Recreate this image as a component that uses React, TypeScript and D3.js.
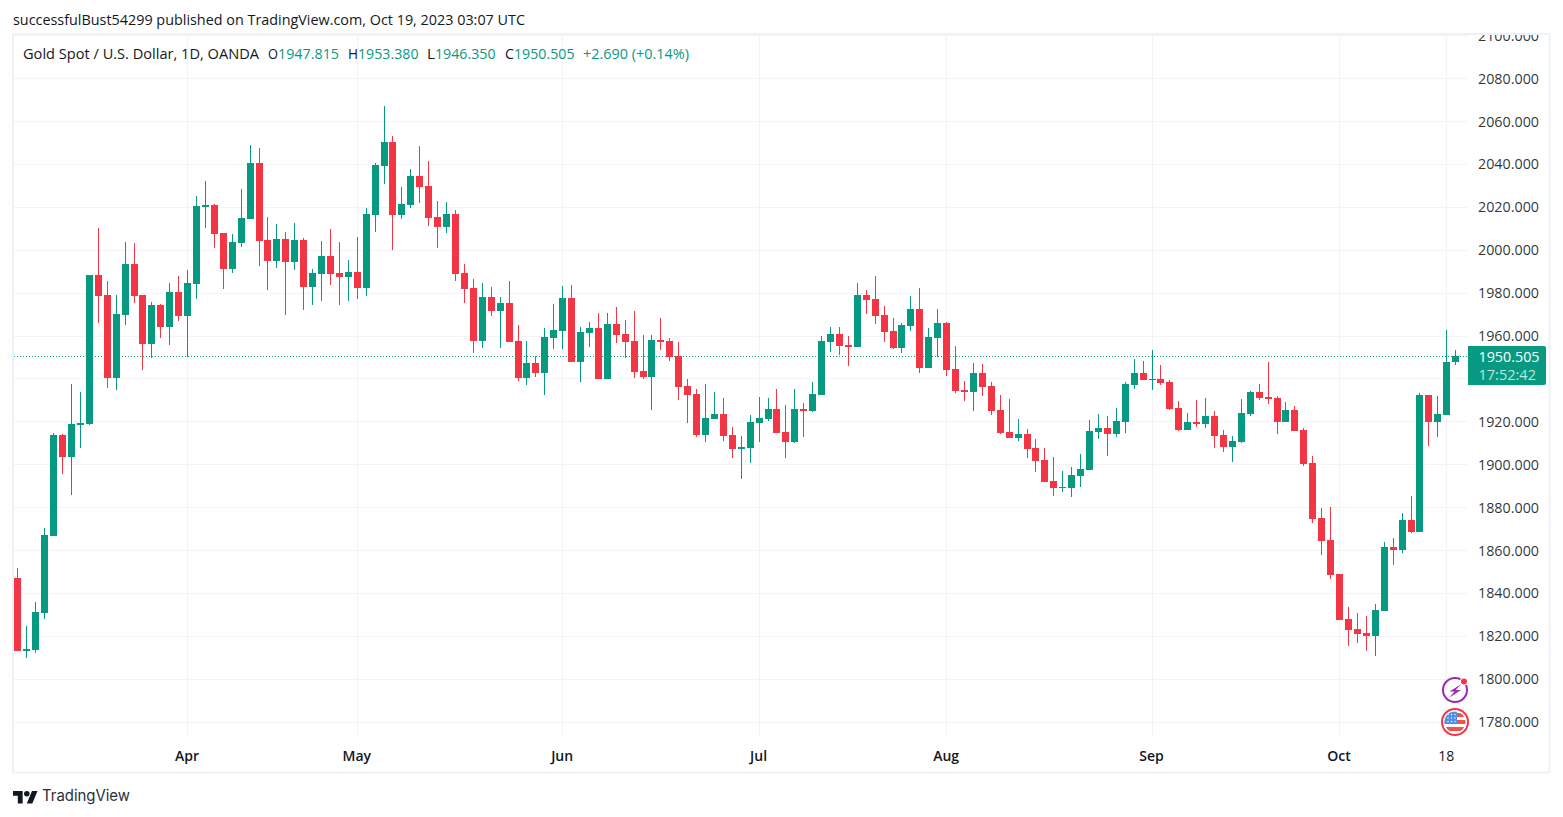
import * as d3 from "d3";

const opens = [
  1847.2, 1813.35, 1813.82, 1831.06, 1866.95, 1913.87, 1903.77, 1918.69, 1919, 1988.45,
  1979.13, 1940.6, 1969.96, 1993.58, 1979.13, 1956.44, 1974.47, 1964.37, 1980.53, 1969.49,
  1984.41, 2020.15, 2021.08, 2008.03, 1991.4, 2003.52, 2014.71, 2040.65, 2004.76, 1994.98,
  2005.23, 1994.51, 2004.76, 1982.86, 1988.92, 1997.31, 1989.38, 1987.52, 1989.85, 1982.39,
  2016.42, 2039.26, 2050.44, 2016.42, 2021.08, 2034.59, 2029.93, 2015.48, 2010.82, 2016.88,
  1989.38, 1982.39, 1957.68, 1978.19, 1971.67, 1975.4, 1957.68, 1940.44, 1947.43, 1942.77,
  1959.08, 1962.35, 1977.73, 1947.9, 1961.41, 1963.75, 1939.97, 1965.61, 1960.95, 1957.69,
  1943.7, 1940.91, 1958.15, 1957.69, 1950.69, 1936.71, 1932.98, 1913.87, 1921.33, 1923.66,
  1913.87, 1907.35, 1907.81, 1919.47, 1921.33, 1925.99, 1915.27, 1910.61, 1925.99, 1925.06,
  1932.52, 1957.22, 1960.95, 1955.82, 1954.89, 1979.13, 1977.26, 1969.8, 1962.35, 1954.42,
  1964.68, 1972.6, 1945.1, 1959.08, 1966.08, 1944.64, 1934.85, 1933.91, 1942.77, 1936.71,
  1925.52, 1915.27, 1912.47, 1914.34, 1907.81, 1902.22, 1892.43, 1889.17, 1889.17, 1894.76,
  1897.56, 1915.27, 1917.13, 1914.34, 1919.93, 1937.18, 1942.77, 1939.66, 1939.97, 1938.57,
  1926.45, 1916.2, 1919.93, 1918.99, 1922.72, 1913.87, 1908.27, 1910.6, 1923.66, 1933.91,
  1931.58, 1931.11, 1919.93, 1925.52, 1916.2, 1900.82, 1875.18, 1864.93, 1849.08, 1828.1,
  1823.44, 1821.58, 1820.18, 1831.83, 1861.66, 1860.26, 1874.25, 1868.65, 1932.51, 1919.93,
  1923.19, 1947.815,
];
const highs = [
  1851.9, 1824.85, 1836.03, 1870.53, 1914.81, 1914.34, 1937.65, 1933.92, 1988.45, 2010.36,
  1985.65, 1979.13, 2003.83, 2003.37, 1979.13, 1975.86, 1974.93, 1984.72, 1987.98, 1990.78,
  2025.27, 2032.26, 2021.54, 2008.03, 2007.56, 2028.54, 2049.04, 2047.65, 2015.48, 2012.22,
  2008.49, 2012.69, 2005.7, 1991.25, 2004.3, 2009.89, 2003.83, 1995.44, 2006.16, 2019.68,
  2040.65, 2067.22, 2053.24, 2029.47, 2037.86, 2048.58, 2041.59, 2022.94, 2022.48, 2018.75,
  1993.58, 1986.58, 1984.72, 1982.86, 1978.19, 1985.65, 1965.14, 1957.68, 1950.69, 1963.75,
  1974.93, 1983.32, 1983.79, 1964.21, 1966.54, 1970.74, 1970.74, 1973.53, 1967.47, 1971.67,
  1960.48, 1960.48, 1968.41, 1959.08, 1957.22, 1939.97, 1935.31, 1937.64, 1933.91, 1931.12,
  1917.6, 1913.41, 1923.19, 1931.58, 1931.12, 1935.31, 1927.86, 1935.31, 1928.79, 1938.58,
  1960.02, 1964.21, 1964.21, 1960.02, 1984.72, 1981.46, 1987.98, 1974, 1968.41, 1966.08,
  1978.66, 1982.39, 1963.75, 1972.6, 1966.54, 1955.36, 1939.04, 1947.43, 1946.97, 1938.58,
  1932.52, 1930.65, 1921.33, 1916.67, 1912.01, 1907.81, 1903.62, 1897.09, 1898.96, 1905.02,
  1920.86, 1923.66, 1922.73, 1926.46, 1938.58, 1949.3, 1948.36, 1953.49, 1946.49, 1939.5,
  1929.72, 1924.12, 1930.18, 1931.11, 1925.05, 1916.2, 1913.4, 1930.65, 1934.38, 1937.64,
  1947.89, 1932.05, 1929.25, 1927.38, 1917.13, 1904.08, 1879.84, 1880.31, 1849.08, 1833.7,
  1830.9, 1829.5, 1835.09, 1863.99, 1865.86, 1877.51, 1885.43, 1933.44, 1932.51, 1932.05,
  1962.81, 1953.38,
];
const lows = [
  1813.35, 1810.09, 1812.42, 1828.27, 1866.95, 1895.85, 1886.06, 1907.97, 1918.5, 1966.23,
  1935.93, 1934.85, 1965.3, 1975.55, 1944.32, 1949.92, 1959.24, 1955.98, 1967.16, 1950.38,
  1977.42, 2010.51, 2001.19, 1982.08, 1989.54, 2001.66, 2014.71, 1992.8, 1981.46, 1991.87,
  1969.81, 1990.94, 1972.14, 1974.47, 1976.33, 1983.79, 1974.47, 1976.33, 1977.26, 1978.66,
  2008.49, 2030.87, 2000.1, 2014.55, 2019.68, 2022.01, 2011.29, 2001.03, 2008.03, 1985.65,
  1975.4, 1952.09, 1954.42, 1969.34, 1954.42, 1957.22, 1939.04, 1937.18, 1940.91, 1932.52,
  1953.96, 1953.96, 1947.9, 1938.58, 1954.89, 1939.97, 1939.97, 1956.75, 1949.76, 1940.44,
  1939.97, 1925.52, 1953.49, 1948.36, 1930.19, 1919.47, 1912.94, 1910.61, 1921.33, 1911.08,
  1903.15, 1893.36, 1900.82, 1910.61, 1920.4, 1914.8, 1903.15, 1910.14, 1912.94, 1924.59,
  1932.52, 1952.56, 1951.16, 1946.03, 1954.89, 1970.27, 1965.61, 1957.22, 1953.96, 1952.09,
  1962.35, 1942.77, 1945.1, 1950.23, 1941.37, 1933.45, 1929.72, 1925.06, 1932.05, 1923.19,
  1914.34, 1912.47, 1911.08, 1903.15, 1896.63, 1891.96, 1885.44, 1887.3, 1884.97, 1889.63,
  1897.56, 1912.01, 1904.08, 1912.94, 1914.8, 1935.31, 1939.51, 1934.85, 1937.17, 1925.52,
  1915.73, 1916.2, 1917.6, 1917.13, 1907.81, 1905.94, 1901.28, 1910.14, 1922.72, 1930.18,
  1928.32, 1914.33, 1919.93, 1915.73, 1899.42, 1872.85, 1857.93, 1846.75, 1827.64, 1815.52,
  1816.92, 1813.19, 1810.86, 1831.83, 1853.27, 1858.87, 1868.19, 1868.65, 1908.74, 1912.94,
  1923.19, 1946.35,
];
const closes = [
  1813.35, 1814.13, 1831.37, 1867.26, 1913.87, 1903.77, 1919, 1919.47, 1988.45, 1978.66,
  1940.6, 1970.27, 1993.58, 1978.66, 1956.44, 1974.47, 1964.37, 1980.53, 1969.49, 1984.72,
  2020.61, 2021.08, 2007.72, 1991.4, 2003.83, 2015.02, 2040.65, 2004.45, 1994.98, 2005.23,
  1994.51, 2004.76, 1982.86, 1989.38, 1997.31, 1988.92, 1987.52, 1989.85, 1982.39, 2016.88,
  2039.72, 2050.44, 2016.42, 2021.54, 2034.59, 2029.47, 2015.02, 2010.82, 2016.88, 1988.92,
  1981.92, 1957.68, 1978.19, 1971.67, 1975.4, 1957.22, 1940.44, 1947.43, 1942.77, 1959.55,
  1962.81, 1977.73, 1947.9, 1961.88, 1963.75, 1939.97, 1965.61, 1960.48, 1957.22, 1943.24,
  1940.91, 1958.15, 1957.22, 1950.23, 1936.25, 1932.52, 1913.87, 1921.8, 1923.66, 1913.41,
  1907.35, 1908.28, 1919.93, 1921.8, 1925.99, 1914.8, 1910.61, 1925.99, 1925.06, 1932.98,
  1957.69, 1960.95, 1955.36, 1954.89, 1979.13, 1976.8, 1969.34, 1961.88, 1954.42, 1965.14,
  1972.6, 1945.1, 1959.55, 1966.08, 1944.17, 1934.38, 1933.91, 1942.77, 1936.25, 1925.06,
  1914.8, 1912.47, 1914.34, 1907.35, 1901.75, 1891.96, 1889.17, 1889.63, 1895.23, 1898.02,
  1915.74, 1917.13, 1914.34, 1920.4, 1937.64, 1942.77, 1939.51, 1939.97, 1938.1, 1925.99,
  1916.2, 1919.93, 1918.99, 1922.72, 1913.4, 1908.27, 1911.07, 1924.12, 1933.91, 1931.11,
  1930.65, 1919.93, 1925.52, 1915.73, 1900.35, 1874.71, 1864.46, 1848.61, 1827.64, 1822.98,
  1821.11, 1820.18, 1832.3, 1861.66, 1860.26, 1874.25, 1868.65, 1932.51, 1919.93, 1923.66,
  1947.89, 1950.505,
];

const priceTicks = [2100, 2080, 2060, 2040, 2020, 2000, 1980, 1960, 1940, 1920, 1900, 1880, 1860, 1840, 1820, 1800, 1780];
// 1940 sits under the last price tag, so it has a grid line but no label
const priceLabels = priceTicks.filter((p) => p !== 1940);
const timeTicks = [
  { label: "Apr", index: 19 },
  { label: "May", index: 38 },
  { label: "Jun", index: 61 },
  { label: "Jul", index: 83 },
  { label: "Aug", index: 104 },
  { label: "Sep", index: 127 },
  { label: "Oct", index: 148 },
  { label: "18", index: 160 },
];
const lastPrice = 1950.505;
const countdown = "17:52:42";

const UP = "#089981";
const DOWN = "#F23645";
const GRID = "#f3f4f7";
const BORDER = "#eff1f8";
const TEXT = "#131722";
const FONT = "'Open Sans', sans-serif";

const x = d3.scaleLinear().domain([0, 161]).range([17.92, 1455.65]);
const y = d3.scaleLinear().domain([1800, 2060]).range([679.3, 121.5]);
const snap = (v: number) => Math.floor(v) + 0.5;

const legend = [
  { t: "Gold Spot / U.S. Dollar, 1D, OANDA", x: 23, w: 236, c: TEXT },
  { t: "O", x: 268, w: 10, c: TEXT },
  { t: "1947.815", x: 278, w: 61, c: UP },
  { t: "H", x: 348, w: 10, c: TEXT },
  { t: "1953.380", x: 358, w: 60.5, c: UP },
  { t: "L", x: 427, w: 8, c: TEXT },
  { t: "1946.350", x: 435, w: 60.5, c: UP },
  { t: "C", x: 505, w: 9, c: TEXT },
  { t: "1950.505", x: 514, w: 60.5, c: UP },
  { t: "+2.690 (+0.14%)", x: 583, w: 106, c: UP },
];

export default function App() {
  const lastY = snap(y(lastPrice));

  return (
    <svg
      width={1563}
      height={817}
      style={{ position: "absolute", left: 0, top: 0, display: "block", background: "#fff" }}
      fontFamily={FONT}
    >
      <defs>
        <clipPath id="pane">
          <rect x={14} y={35} width={1534} height={737} />
        </clipPath>
        <clipPath id="flag">
          <circle cx={1455} cy={722} r={10.5} />
        </clipPath>
      </defs>

      <text x={13} y={25} fontSize={14} fill={TEXT} textLength={512} lengthAdjust="spacingAndGlyphs">
        successfulBust54299 published on TradingView.com, Oct 19, 2023 03:07 UTC
      </text>

      <rect x={13} y={34} width={1536.5} height={738.5} fill="none" stroke={BORDER} strokeWidth={2} />

      <g clipPath="url(#pane)">
        <g shapeRendering="crispEdges" stroke={GRID}>
          {priceTicks.map((p) => (
            <line key={p} x1={14} x2={1468} y1={snap(y(p))} y2={snap(y(p))} />
          ))}
          {timeTicks.map((t) => (
            <line key={t.label} x1={snap(x(t.index))} x2={snap(x(t.index))} y1={35} y2={737} />
          ))}
        </g>

        <line
          x1={14}
          x2={1468}
          y1={lastY}
          y2={lastY}
          stroke={UP}
          strokeDasharray="1 2"
          shapeRendering="crispEdges"
        />

        <g shapeRendering="crispEdges">
          {opens.map((o, i) => {
            const c = closes[i];
            const color = c >= o ? UP : DOWN;
            const cx = Math.floor(x(i));
            const top = Math.round(y(Math.max(o, c)));
            const bottom = Math.round(y(Math.min(o, c)));
            const wickTop = Math.round(y(highs[i]));
            const wickBottom = Math.round(y(lows[i]));
            return (
              <g key={i} fill={color}>
                <rect x={cx} y={wickTop} width={1} height={Math.max(wickBottom - wickTop, 1)} />
                <rect x={cx - 3} y={top} width={7} height={Math.max(bottom - top, 1)} />
              </g>
            );
          })}
        </g>

        <g fontSize={14} fill={TEXT} fillOpacity={0.9} textAnchor="end">
          {priceLabels.map((p) => (
            <text key={p} x={1539} y={y(p) + 5} textLength={61} lengthAdjust="spacingAndGlyphs">
              {d3.format(".3f")(p)}
            </text>
          ))}
        </g>
      </g>

      <g fontSize={14} fill={TEXT} textAnchor="middle">
        {timeTicks.map((t, i) => (
          <text
            key={t.label}
            x={x(t.index) - 0.5}
            y={761}
            fontWeight={i < timeTicks.length - 1 ? 600 : 400}
          >
            {t.label}
          </text>
        ))}
      </g>

      <g fontSize={14}>
        {legend.map((l) => (
          <text key={l.t + l.x} x={l.x} y={59} fill={l.c} textLength={l.w} lengthAdjust="spacingAndGlyphs">
            {l.t}
          </text>
        ))}
      </g>

      <path d="M1468 346H1544a2 2 0 0 1 2 2V383a2 2 0 0 1 -2 2H1468Z" fill={UP} />
      <text x={1478.5} y={361.5} fontSize={14} fontWeight={500} fill="#fff" textLength={61} lengthAdjust="spacingAndGlyphs">
        {d3.format(".3f")(lastPrice)}
      </text>
      <text x={1478.5} y={380} fontSize={14} fill="#fff" fillOpacity={0.75} textLength={57.5} lengthAdjust="spacingAndGlyphs">
        {countdown}
      </text>

      {/* earnings / news icons at the right end of the pane */}
      <circle cx={1455} cy={690} r={12} fill="#fff" stroke="#9c27b0" strokeWidth={2} />
      <path d="M1461.5 684L1449.5 691.5H1454.5L1449.5 697.5L1461 690H1455.5Z" fill="#9c27b0" />
      <circle cx={1464} cy={681.5} r={4} fill="#fff" />
      <circle cx={1464} cy={681.5} r={3} fill={DOWN} />

      <circle cx={1455} cy={722} r={13} fill="#fff" stroke={DOWN} strokeWidth={2} />
      <g clipPath="url(#flag)">
        {d3.range(3).map((k) => (
          <rect key={k} x={1443} y={713 + k * 7} width={24} height={4} fill="#ef5350" />
        ))}
        <rect x={1444} y={711} width={13} height={13} fill="#4f8fe6" />
        {d3.range(9).map((k) => (
          <circle key={k} cx={1448 + (k % 3) * 3.5} cy={714.5 + Math.floor(k / 3) * 3.5} r={0.7} fill="#fff" />
        ))}
      </g>

      <g transform="translate(13,788.2) scale(0.69)" fill={TEXT}>
        <path d="M14 22H7V11H0V4h14v18zM28 22h-8l7.5-18h8L28 22z" />
        <circle cx={20} cy={8} r={4} />
      </g>
      <text x={42} y={801} fontSize={15.5} fill="#2a2e39" fontFamily="Inter, sans-serif" textLength={88} lengthAdjust="spacingAndGlyphs">
        TradingView
      </text>
    </svg>
  );
}
